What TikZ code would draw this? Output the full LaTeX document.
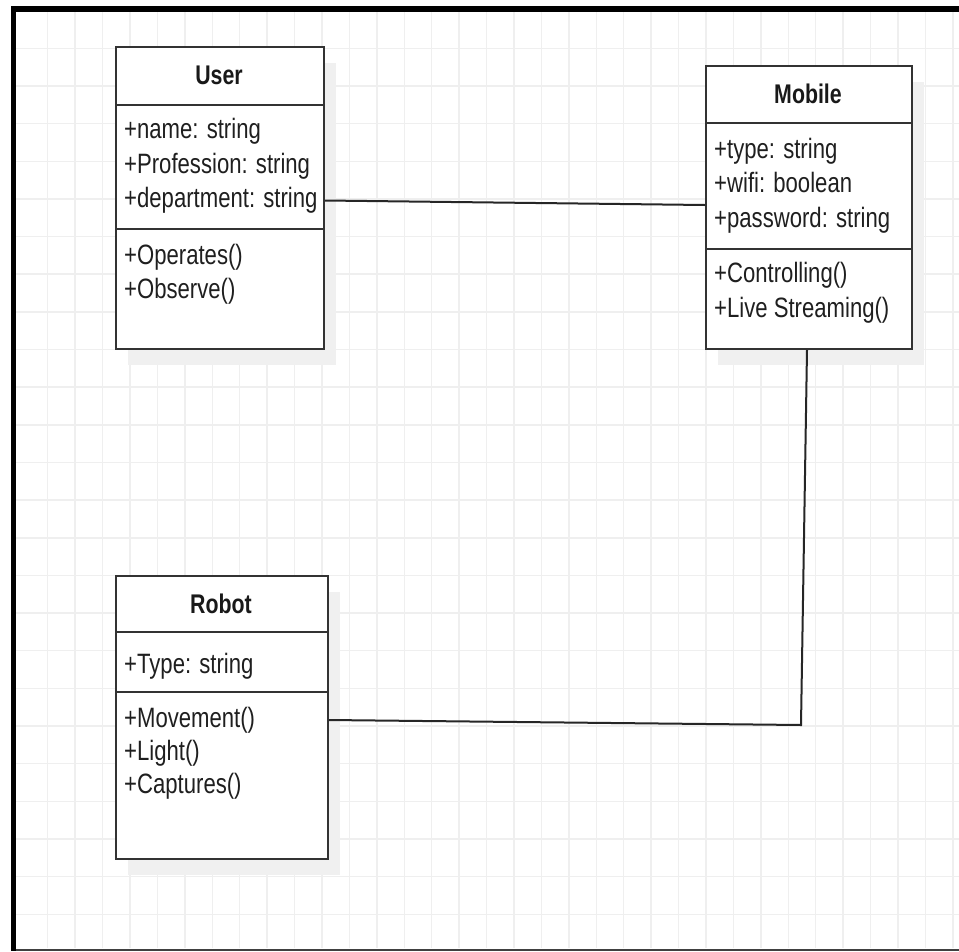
\documentclass[tikz,border=0pt]{standalone}
\usepackage{fontspec}
\setmainfont{Liberation Sans}[FakeStretch=0.79]
\usetikzlibrary{calc,shadows}
\definecolor{gridc}{HTML}{EFEFEF}
\definecolor{boxc}{HTML}{333333}
\definecolor{shadc}{HTML}{F0F0F0}
\tikzset{
  classbox/.style={draw=boxc, line width=2pt, fill=white, rectangle, anchor=north west, inner sep=0pt,
    drop shadow={shadow xshift=12pt, shadow yshift=-16pt, fill=shadc, opacity=1}},
  divider/.style={draw=boxc, line width=2pt},
  member/.style={anchor=base west, inner sep=0pt, font=\fontsize{28}{32}\selectfont, text=black!88},
  title/.style={inner sep=0pt, font=\fontsize{27}{32}\selectfont\bfseries, text=black!90},
  assoc/.style={draw=black!85, line width=2pt},
  gridline/.style={draw=gridc, line width=1.5pt}
}
\begin{document}
\begin{tikzpicture}[x=1pt,y=-1pt]
\useasboundingbox (0,0) rectangle (959,951);
\fill[white] (0,0) rectangle (959,951);
% grid
\foreach \k in {0,...,33}{
  \pgfmathsetmacro{\gx}{47.7+27.43*\k}
  \draw[gridline] (\gx,12) -- (\gx,948);
}
\foreach \k in {0,...,23}{
  \pgfmathsetmacro{\gy}{48.3+37.65*\k}
  \draw[gridline] (16,\gy) -- (959,\gy);
}
% frame
\fill[black] (10.7,6) rectangle (959,12);
\fill[black] (10.7,6) rectangle (16,951);
\fill[black!75] (16,948.5) rectangle (959,951);

% User
\node[classbox, minimum width=208pt, minimum height=302pt] (user) at (115,46) {};
\draw[divider] (user.west |- 0,105) -- (user.east |- 0,105);
\draw[divider] (user.west |- 0,229) -- (user.east |- 0,229);
\node[title] (userT) at (219,75.5) {User};
\node[member] (u1) at (124,138.5) {+name: string};
\node[member] (u2) at (124,173.3) {+Profession: string};
\node[member] (u3) at (124,207) {+department: string};
\node[member] (u4) at (124,264) {+Operates()};
\node[member] (u5) at (124,298.5) {+Observe()};

% Mobile
\node[classbox, minimum width=206pt, minimum height=283pt] (mobile) at (705,65) {};
\draw[divider] (mobile.west |- 0,123) -- (mobile.east |- 0,123);
\draw[divider] (mobile.west |- 0,249) -- (mobile.east |- 0,249);
\node[title] (mobileT) at (808,94) {Mobile};
\node[member] (m1) at (714,158) {+type: string};
\node[member] (m2) at (714,192.5) {+wifi: boolean};
\node[member] (m3) at (714,227) {+password: string};
\node[member] (m4) at (714,282) {+Controlling()};
\node[member] (m5) at (714,317) {+Live Streaming()};

% Robot
\node[classbox, minimum width=212pt, minimum height=283pt] (robot) at (115,575) {};
\draw[divider] (robot.west |- 0,632) -- (robot.east |- 0,632);
\draw[divider] (robot.west |- 0,692) -- (robot.east |- 0,692);
\node[title] (robotT) at (221,603.5) {Robot};
\node[member] (r1) at (124,673) {+Type: string};
\node[member] (r2) at (124,727) {+Movement()};
\node[member] (r3) at (124,760) {+Light()};
\node[member] (r4) at (124,793) {+Captures()};

% connectors
\coordinate (bend) at (801,725);
\draw[assoc] ($(user.east)+(0,2.5)$) -- ($(mobile.west)+(0,-2.5)$);
\draw[assoc] ($(mobile.south)+(-2,0)$) -- (bend) -- ($(robot.east)+(0,2.5)$);
\end{tikzpicture}
\end{document}
